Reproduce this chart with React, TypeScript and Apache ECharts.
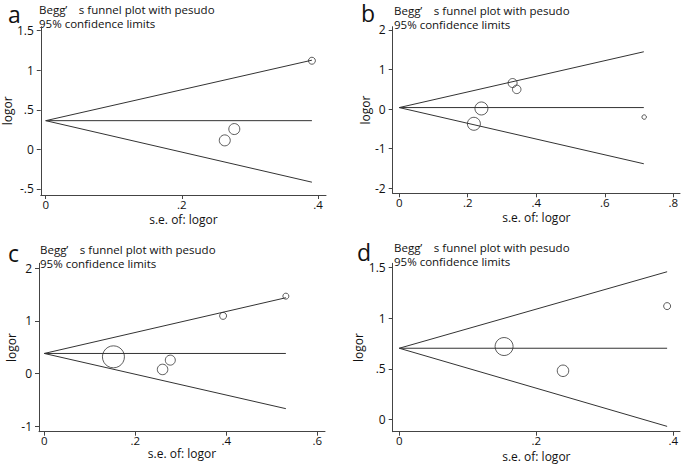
import React, { useEffect, useRef } from "react";
import * as echarts from "echarts";

const FONT = '"Open Sans", "Noto Sans", sans-serif';

// Panel a
const aSe = [0.391, 0.263, 0.277];
const aLogor = [1.12, 0.114, 0.257];
const aWeight = [7, 11, 11];
const aLimits = [0.363, 0.391, 1.127, -0.414]; // pooled, max se, upper end, lower end
const aXTicks = [0, 0.2, 0.4];
const aYTicks = [-0.5, 0, 0.5, 1, 1.5];

// Panel b
const bSe = [0.331, 0.343, 0.24, 0.218, 0.715];
const bLogor = [0.66, 0.5, 0.017, -0.37, -0.2];
const bWeight = [9, 8.5, 13, 13, 4.5];
const bLimits = [0.04, 0.714, 1.45, -1.38];
const bXTicks = [0, 0.2, 0.4, 0.6, 0.8];
const bYTicks = [-2, -1, 0, 1, 2];

// Panel c
const cSe = [0.531, 0.393, 0.152, 0.277, 0.26];
const cLogor = [1.47, 1.095, 0.316, 0.253, 0.076];
const cWeight = [6, 7, 22, 10, 10.5];
const cLimits = [0.38, 0.531, 1.44, -0.67];
const cXTicks = [0, 0.2, 0.4, 0.6];
const cYTicks = [-1, 0, 1, 2];

// Panel d
const dSe = [0.391, 0.153, 0.239];
const dLogor = [1.12, 0.72, 0.48];
const dWeight = [7, 18, 11.5];
const dLimits = [0.703, 0.391, 1.46, -0.07];
const dXTicks = [0, 0.2, 0.4];
const dYTicks = [0, 0.5, 1, 1.5];

const panelLetters = ["a", "b", "c", "d"];
const titleLine1 = "Begg’\u2003s funnel plot with pesudo";
const titleLine2 = "95% confidence limits";
const xName = "s.e. of: logor";
const yName = "logor";

function fmt(v: number): string {
  const s = String(Math.round(v * 100) / 100);
  return s.replace(/^0\./, ".").replace(/^-0\./, "-.");
}

const layouts = [
  { grid: { left: 39, top: 26.7, width: 287, height: 168.3 }, x: [-0.0073, 0.4117], y: [-0.576, 1.55], yGap: 23, xGap: 18, letter: [8, 2], title: [39, 2] },
  { grid: { left: 392.7, top: 26.7, width: 287.3, height: 166.6 }, x: [-0.019, 0.8196], y: [-2.126, 2.083], yGap: 19, xGap: 18.5, letter: [361, 1], title: [394, 3] },
  { grid: { left: 39, top: 263.3, width: 286, height: 168.4 }, x: [-0.0116, 0.617], y: [-1.108, 2.095], yGap: 22, xGap: 15, letter: [8, 241], title: [40, 242] },
  { grid: { left: 392.7, top: 263.3, width: 287.3, height: 168.4 }, x: [-0.0096, 0.4098], y: [-0.1227, 1.5435], yGap: 19, xGap: 18.5, letter: [357, 240], title: [394, 240] },
];

const panels = [
  { se: aSe, logor: aLogor, w: aWeight, lim: aLimits, xt: aXTicks, yt: aYTicks },
  { se: bSe, logor: bLogor, w: bWeight, lim: bLimits, xt: bXTicks, yt: bYTicks },
  { se: cSe, logor: cLogor, w: cWeight, lim: cLimits, xt: cXTicks, yt: cYTicks },
  { se: dSe, logor: dLogor, w: dWeight, lim: dLimits, xt: dXTicks, yt: dYTicks },
];

export default function App() {
  const ref = useRef<HTMLDivElement>(null);
  useEffect(() => {
    if (!ref.current) return;
    const chart = echarts.init(ref.current, null, { renderer: "svg" });
    const axisColor = "#444";
    const textColor = "#111";
    const grids: any[] = [];
    const xAxes: any[] = [];
    const yAxes: any[] = [];
    const series: any[] = [];
    const graphics: any[] = [];
    panels.forEach((p, i) => {
      const L = layouts[i];
      grids.push({ ...L.grid, containLabel: false });
      const common = {
        type: "value",
        gridIndex: i,
        splitLine: { show: false },
        axisLine: { show: true, onZero: false, lineStyle: { color: axisColor, width: 1 } },
        nameTextStyle: { color: textColor, fontSize: 12, fontFamily: FONT },
        nameLocation: "middle",
      };
      xAxes.push({
        ...common,
        min: L.x[0],
        max: L.x[1],
        name: xName,
        nameGap: L.xGap,
        axisTick: { show: true, length: 4, customValues: p.xt, lineStyle: { color: axisColor } },
        axisLabel: { customValues: p.xt, formatter: fmt, color: textColor, fontSize: 11.5, fontFamily: FONT, margin: 3, lineHeight: 12 },
      });
      yAxes.push({
        ...common,
        min: L.y[0],
        max: L.y[1],
        name: yName,
        nameGap: L.yGap,
        nameRotate: 90,
        axisTick: { show: true, length: 4, customValues: p.yt, lineStyle: { color: axisColor } },
        axisLabel: { customValues: p.yt, formatter: fmt, color: textColor, fontSize: 12, fontFamily: FONT, margin: 7 },
      });
      const [pooled, maxSe, upper, lower] = p.lim;
      const lineStyle = { color: "#333", width: 1 };
      [upper, pooled, lower].forEach((end) => {
        series.push({
          type: "line",
          xAxisIndex: i,
          yAxisIndex: i,
          data: [[0, pooled], [maxSe, end]],
          showSymbol: false,
          symbol: "none",
          lineStyle,
          silent: true,
        });
      });
      series.push({
        type: "scatter",
        xAxisIndex: i,
        yAxisIndex: i,
        data: p.se.map((s, k) => [s, p.logor[k], p.w[k]]),
        symbol: "circle",
        symbolSize: (v: number[]) => v[2],
        itemStyle: { color: "rgba(0,0,0,0)", borderColor: "#333", borderWidth: 1 },
        z: 5,
      });
      graphics.push({
        type: "text",
        left: L.letter[0],
        top: L.letter[1],
        style: { text: panelLetters[i], fill: "#111", fontSize: 23, fontFamily: FONT, lineHeight: 16 },
      });
      graphics.push({
        type: "text",
        left: L.title[0],
        top: L.title[1],
        style: {
          text: titleLine1 + "\n" + titleLine2,
          fill: textColor,
          fontSize: 11.5,
          fontFamily: FONT,
          lineHeight: 14,
        },
      });
    });
    chart.setOption({
      animation: false,
      backgroundColor: "#fff",
      grid: grids,
      xAxis: xAxes,
      yAxis: yAxes,
      series,
      graphic: graphics,
    });
    return () => chart.dispose();
  }, []);
  return (
    <div
      ref={ref}
      style={{ position: "fixed", left: 0, top: 0, width: 685, height: 465, background: "#fff" }}
    />
  );
}
